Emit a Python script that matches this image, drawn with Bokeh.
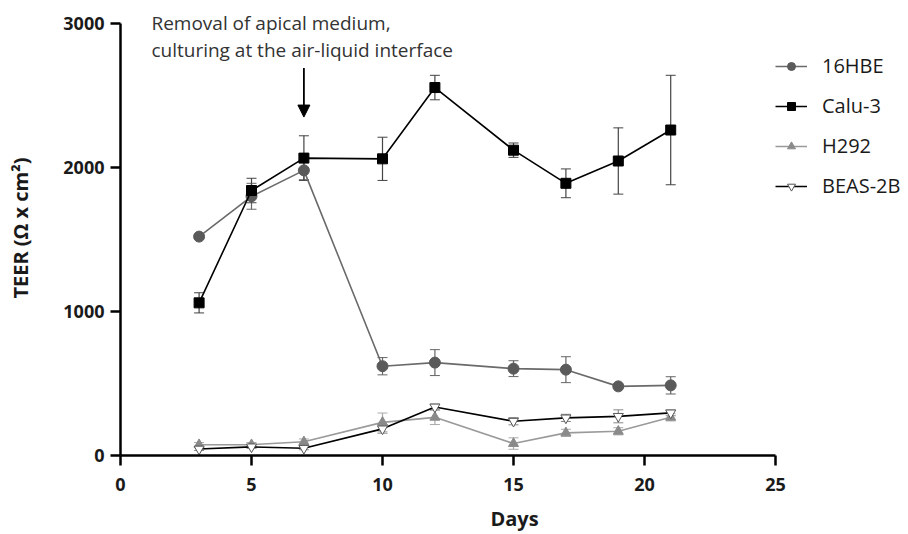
from bokeh.plotting import figure
from bokeh.models import ColumnDataSource, Whisker, Legend, LegendItem, Label, Arrow, NormalHead, FixedTicker
from bokeh.embed import file_html
from bokeh.resources import INLINE

days = [3, 5, 7, 10, 12, 15, 17, 19, 21]
hbe16 = [1520, 1800, 1980, 620, 645, 603, 596, 480, 487]
hbe16_err = [15, 90, 65, 60, 90, 55, 90, 15, 60]
calu3 = [1060, 1840, 2065, 2060, 2555, 2120, 1890, 2045, 2260]
calu3_err = [70, 85, 155, 150, 85, 50, 100, 230, 380]
h292 = [75, 75, 95, 230, 265, 83, 157, 168, 265]
h292_err = [15, 15, 20, 65, 50, 40, 25, 25, 25]
beas2b = [45, 60, 50, 185, 337, 238, 261, 272, 296]
beas2b_err = [10, 10, 10, 30, 20, 25, 25, 45, 20]

x_ticks = [0, 5, 10, 15, 20, 25]
y_ticks = [0, 1000, 2000, 3000]

FONT = "Open Sans"

# frame extends beyond the axis bounds so that the legend and the annotation fit inside it
p = figure(width=908, height=534, output_backend="svg", toolbar_location=None,
           x_range=(0, 30.076), y_range=(0, 3159.4),
           min_border_left=120, min_border_right=0, min_border_top=0, min_border_bottom=78)
p.grid.visible = False
p.outline_line_color = None

for ax in (p.xaxis[0], p.yaxis[0]):
    ax.axis_line_width = 2.5
    ax.axis_line_color = "black"
    ax.major_tick_line_width = 2.5
    ax.major_tick_line_color = "black"
    ax.major_tick_out = 10
    ax.major_tick_in = 0
    ax.minor_tick_line_color = None
    ax.major_label_text_font = FONT
    ax.major_label_text_font_style = "bold"
    ax.major_label_text_font_size = "18px"
    ax.major_label_text_color = "#1a1a1a"
    ax.axis_label_text_font = FONT
    ax.axis_label_text_font_style = "bold"
    ax.axis_label_text_font_size = "20px"
    ax.axis_label_text_color = "#1a1a1a"

p.xaxis.ticker = FixedTicker(ticks=x_ticks)
p.yaxis.ticker = FixedTicker(ticks=y_ticks)
p.xaxis.bounds = (0, 25)
p.yaxis.bounds = (0, 3000)
p.xaxis.axis_label = "Days"
p.yaxis.axis_label = "TEER (Ω x cm²)"
p.xaxis.major_label_standoff = 12
p.yaxis.major_label_standoff = 6
p.xaxis.axis_label_standoff = 11
p.yaxis.axis_label_standoff = 26

series = [
    ("16HBE", hbe16, hbe16_err, "circle", "#5a5a5a", "#5a5a5a", "#6a6a6a", "#666666", 11),
    ("Calu-3", calu3, calu3_err, "square", "black", "black", "black", "#444444", 10),
    ("H292", h292, h292_err, "triangle", "#8a8a8a", "#8a8a8a", "#9a9a9a", "#aaaaaa", 10),
    ("BEAS-2B", beas2b, beas2b_err, "inverted_triangle", "white", "#555555", "black", "#888888", 10),
]

items = []
for name, vals, err, marker, fill, mline, lcolor, ecolor, size in series:
    src = ColumnDataSource(dict(x=days, y=vals,
                                upper=[v + e for v, e in zip(vals, err)],
                                lower=[v - e for v, e in zip(vals, err)]))
    w = Whisker(base="x", upper="upper", lower="lower", source=src,
                line_color=ecolor, line_width=1.2)
    w.upper_head.line_color = ecolor
    w.lower_head.line_color = ecolor
    w.upper_head.size = 10
    w.lower_head.size = 10
    p.add_layout(w)
    r1 = p.line("x", "y", source=src, line_color=lcolor, line_width=1.6)
    r2 = p.scatter("x", "y", source=src, marker=marker, size=size,
                   fill_color=fill, line_color=mline, line_width=1)
    items.append(LegendItem(label=name, renderers=[r1, r2]))

legend = Legend(items=items, location=(655, 256), orientation="vertical",
                glyph_width=32, glyph_height=20, label_standoff=15, spacing=13,
                padding=0, margin=0, border_line_color=None, background_fill_alpha=0,
                label_text_font=FONT, label_text_font_size="20px", label_text_color="#1a1a1a")
p.add_layout(legend, "center")

p.add_layout(Label(x=1.18, y=3000, text="Removal of apical medium,", text_font=FONT,
                   text_font_size="19px", text_color="#333333", text_baseline="middle"))
p.add_layout(Label(x=1.18, y=2813, text="culturing at the air-liquid interface", text_font=FONT,
                   text_font_size="19px", text_color="#333333", text_baseline="middle"))
p.add_layout(Arrow(x_start=7, y_start=2690, x_end=7, y_end=2350, line_color="black", line_width=1.8,
                   end=NormalHead(size=12, fill_color="black", line_color="black")))

open("out.html", "w").write(file_html(p, INLINE))
